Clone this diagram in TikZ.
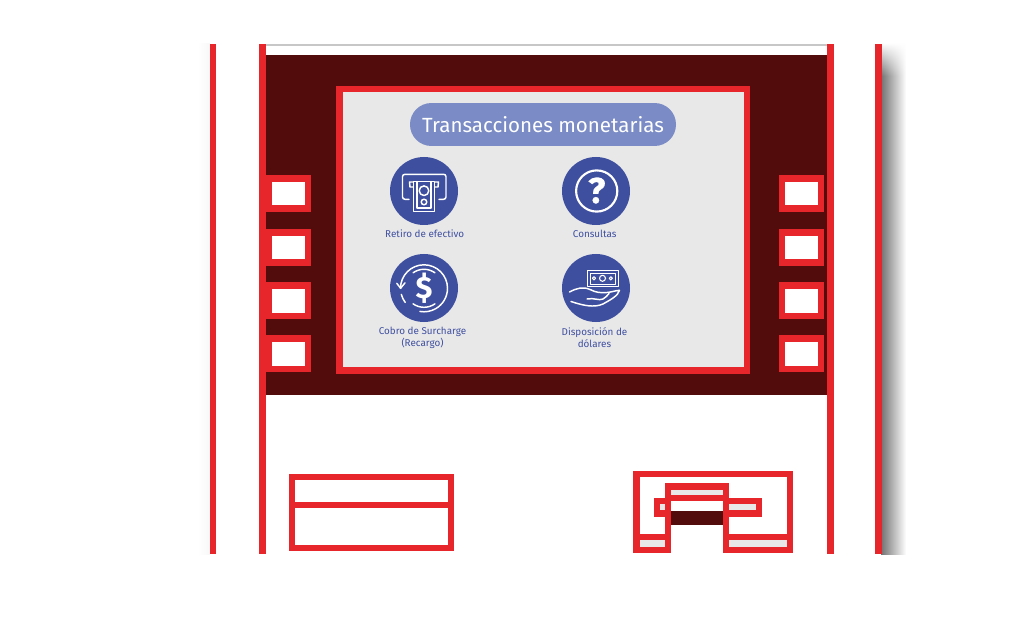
\documentclass[tikz,border=0pt]{standalone}
\usepackage{fontspec}
\usetikzlibrary{fadings}
\setmainfont{Fira Sans}
\definecolor{atmred}{HTML}{E7262B}
\definecolor{maroon}{HTML}{520C0C}
\definecolor{panel}{HTML}{E8E8E9}
\definecolor{navy}{HTML}{3F4F9F}
\definecolor{pill}{HTML}{7A8BC5}
\tikzset{
  redfill/.style={fill=atmred,draw=none},
  whitefill/.style={fill=white,draw=none},
  panelfill/.style={fill=panel,draw=none},
  badge/.style={circle,fill=navy,draw=none,minimum size=51pt,inner sep=0pt},
  ico/.style={draw=white,line width=1.1pt,line cap=round,line join=round},
  caption/.style={text=navy,font=\fontsize{7.4pt}{9pt}\selectfont,align=center,inner sep=0pt},
}
\newcommand{\softkey}[2]{%
  \fill[redfill] (#1,#2) rectangle ++(45,37);
  \fill[whitefill] (#1+6,#2+7) rectangle ++(33,23.5);
}
\begin{document}
\begin{tikzpicture}[x=0.75pt,y=-0.75pt]
\useasboundingbox (0,0) rectangle (1024,620);
\fill[white] (0,0) rectangle (1024,620);
% shadows
\shade[left color=white,right color=black!3] (198,44) rectangle (210,554);
\shade[left color=black!55,middle color=black!24,right color=white] (881,44) rectangle (906,554);
\fill[white,path fading=south] (881,43) rectangle (907,76);
% housing
\fill[redfill] (209.5,44) rectangle (216,554);
\fill[redfill] (259,44) rectangle (265.8,554);
\fill[redfill] (827,44) rectangle (833.5,554);
\fill[redfill] (875,44) rectangle (881.7,554);
\fill[black!22] (265.8,44) rectangle (827,46);
\fill[maroon] (265.8,55) rectangle (827,395);
% screen
\fill[redfill] (336,86) rectangle (750,373.5);
\fill[panelfill] (343,92.5) rectangle (744,367);
% soft keys
\softkey{266}{175}\softkey{266}{229}\softkey{266}{282}\softkey{266}{335}
\softkey{779}{175}\softkey{779}{229}\softkey{779}{282}\softkey{779}{335}
% title
\node[fill=pill,rounded corners=16pt,minimum width=199.5pt,minimum height=32.2pt,inner sep=0pt,
  text=white,font=\fontsize{15.4pt}{18pt}\selectfont] (title) at (543,124.5) {\raisebox{0.7pt}{Transacciones monetarias}};
% badges
\node[badge] (b1) at (424,191) {};
\node[badge] (b2) at (596,191) {};
\node[badge] (b3) at (424,288) {};
\node[badge] (b4) at (596,288) {};
% icon 1: cash withdrawal
\draw[ico] (409,199.3) -- (405,199.3) to[out=180,in=-90] (402.5,197) -- (402.5,176.5) to[out=90,in=180] (405,174.3) -- (443.5,174.3) to[out=0,in=90] (446,176.5) -- (446,197) to[out=-90,in=0] (443.5,199.3) -- (439,199.3);
\draw[ico] (413.5,187) -- (410,187) -- (409.5,182) -- (438.5,182) -- (438,187) -- (434.5,187);
\draw[ico,fill=navy] (413.5,181.5) -- (434.5,181.5) -- (434.5,211.5) -- (413.5,211.5) -- cycle;
\draw[ico,line width=0.8pt] (417,181.5) -- (417,208) -- (431,208) -- (431,181.5);
\draw[ico] (424,190.7) circle[radius=4.8];
\draw[ico] (424,202) circle[radius=2.8];
% icon 2: surcharge (angles run clockwise because the y axis points down)
\draw[ico] (424,288.3) ++(180:23.5) arc[start angle=180,end angle=460,radius=23.5];
\draw[ico] (424,288.3) ++(165:23.5) arc[start angle=165,end angle=143,radius=23.5];
\draw[ico] (396.8,283.3) -- (400.6,288.3) -- (405,282.8);
\draw[ico] (424,288.3) ++(235:19) arc[start angle=235,end angle=305,radius=19];
\draw[ico] (424,288.3) ++(125:19) arc[start angle=125,end angle=55,radius=19];
\node[text=white,font=\bfseries\fontsize{23pt}{24pt}\selectfont,inner sep=0pt] (dollar) at (424,288.5) {\$};
% icon 3: enquiries
\draw[ico,line width=1.6pt] (596.7,191) circle[radius=20.6];
\node[text=white,font=\bfseries\fontsize{27pt}{28pt}\selectfont\addfontfeatures{FakeBold=0.6},inner sep=0pt] (quest) at (596.7,190.5) {?};
% icon 4: dollars in hand
\draw[ico,line width=0.9pt] (587.5,270.8) rectangle (618.2,286.8);
\draw[ico,line width=0.8pt] (590.8,273.5) rectangle (615.3,284.3);
\draw[ico,line width=0.8pt] (594,278.3) circle[radius=1.6];
\draw[ico,line width=0.8pt] (602.5,278.3) circle[radius=3];
\draw[ico,line width=0.8pt] (610.8,278.3) circle[radius=1.6];
\draw[ico] (569.5,292) .. controls (577,288) and (583,286.5) .. (590,289.5) .. controls (596,292.5) and (600,293) .. (607,292.5) .. controls (612,292) and (616,290.5) .. (619.5,290.3) .. controls (618,296) and (610,300) .. (603,304) .. controls (594,308) and (583,305.5) .. (571,301.5);
\draw[ico] (587,299) .. controls (594,297.5) and (599,301) .. (603,299) .. controls (606,297.5) and (607,295.5) .. (609,293.5);
% captions
\node[caption,anchor=base] (c1) at (424.7,238) {Retiro de efectivo};
\node[caption,anchor=base] (c2) at (594.7,238) {Consultas};
\node[caption] (c3) at (422.5,337.5) {Cobro de Surcharge\\(Recargo)};
\node[caption] (c4) at (594.5,337.5) {Disposición de\\dólares};
% card reader panel
\draw[atmred,line width=4.5pt] (292,477) rectangle (451.3,548.3);
\fill[redfill] (292,501.5) rectangle (451.3,507.5);
% cash dispenser
\fill[redfill] (633,471) rectangle (793,553);
\fill[whitefill] (639.5,477.3) rectangle (787,534);
\fill[panelfill] (639.5,540) rectangle (665,546.8);
\fill[panelfill] (729,540) rectangle (787,546.8);
\fill[redfill] (653.5,498) rectangle (762,516.7);
\fill[panelfill] (660,504) rectangle (665,510);
\fill[panelfill] (729,504) rectangle (755.7,510);
\fill[redfill] (664.5,482.7) rectangle (729,553);
\fill[panelfill] (671,490.3) rectangle (723,494.8);
\fill[whitefill] (671,500.7) rectangle (723,511);
\fill[maroon] (671,511) rectangle (723,525);
\fill[whitefill] (671,525) rectangle (723,554);
\end{tikzpicture}
\end{document}
